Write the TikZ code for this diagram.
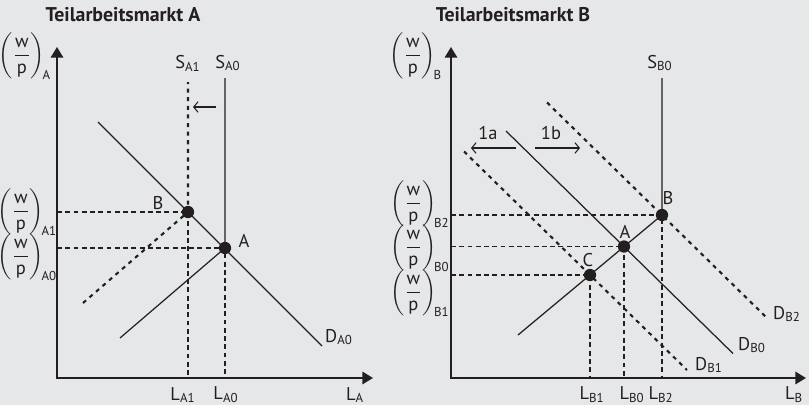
\documentclass[tikz,border=0pt]{standalone}
\usepackage{amsmath}
\usepackage{fontspec}
\setmainfont{PT Sans}
\usetikzlibrary{arrows.meta}

\definecolor{sfondo}{RGB}{230,231,232}
\definecolor{tratto}{RGB}{35,31,32}
\newcommand{\salario}[1]{$\biggl(\dfrac{\text{w}}{\text{p}}\biggr)_{\!\text{#1}}$}

\begin{document}
\begin{tikzpicture}[color=tratto, font=\fontsize{10.5}{12}\selectfont,
    asse/.style={line width=1.1pt, {Triangle[length=6pt,width=7pt]}-{Triangle[length=6pt,width=7pt]}},
    curva/.style={line width=0.7pt},
    spostata/.style={line width=1.2pt, dash pattern=on 2.3pt off 2.6pt},
    guida/.style={line width=0.6pt, dash pattern=on 2.8pt off 1.9pt},
    punto/.style={circle, fill=tratto, inner sep=0pt, minimum size=7pt},
    freccina/.style={line width=0.6pt, -{Straight Barb[length=2.5pt,width=6pt]}},
    titolo/.style={font=\bfseries\fontsize{11.3}{13}\selectfont}]
	% Sfondo grigio e cornice
	\fill[sfondo] (0,0) rectangle (16.18,8.10);
	\useasboundingbox (0,0) rectangle (16.18,8.10);

	% ---------------- Teilarbeitsmarkt A ----------------
	\node[titolo] (titoloA) at (2.46, 7.80) {Teilarbeitsmarkt A};
	\coordinate (OA) at (1.14, 0.54);
	\coordinate (yA) at (1.14, 7.16);
	\coordinate (xA) at (7.46, 0.54);
	\coordinate (A) at (4.50, 3.14);
	\coordinate (B) at (3.76, 3.86);

	% Linee guida tratteggiate verso gli assi
	\draw[guida] (OA |- B) -| (B |- OA);
	\draw[guida] (OA |- A) -| (A |- OA);

	% Assi
	\draw[asse] (yA) |- (xA);

	% Curve di offerta e domanda
	\coordinate (DAinizio) at (1.96, 5.66);
	\coordinate (DAfine) at (6.44, 1.18);
	\draw[curva] (DAinizio) -- (DAfine);
	\coordinate (SA0basso) at (2.40, 1.34);
	\coordinate (SA0alto) at (4.50, 6.54);
	\draw[curva] (SA0basso) -- (A) -- (SA0alto);
	\coordinate (SA1basso) at (1.66, 2.04);
	\coordinate (SA1alto) at (3.76, 6.46);
	\draw[spostata] (SA1basso) -- (B) -- (SA1alto);

	% Spostamento dell'offerta
	\coordinate (frA1) at (4.32, 5.96);
	\coordinate (frA2) at (3.86, 5.96);
	\draw[freccina] (frA1) -- (frA2);

	% Punti di equilibrio
	\node[punto] (puntoA) at (A) {};
	\node[punto] (puntoB) at (B) {};
	\node (etA) at (4.88, 3.28) {A};
	\node (etB) at (3.16, 4.04) {B};

	% Etichette delle curve e degli assi
	\node (lSA1) at (3.76, 6.84) {S$_\text{A1}$};
	\node (lSA0) at (4.56, 6.84) {S$_\text{A0}$};
	\node (lDA0) at (6.78, 1.36) {D$_\text{A0}$};
	\node (lLA1) at (3.66, 0.20) {L$_\text{A1}$};
	\node (lLA0) at (4.52, 0.20) {L$_\text{A0}$};
	\node (lLA) at (7.10, 0.20) {L$_\text{A}$};
	\node (lwA) at (0.50, 6.98) {\salario{A}};
	\node (lwA1) at (0.55, 3.86) {\salario{A1}};
	\node (lwA0) at (0.55, 2.96) {\salario{A0}};

	% ---------------- Teilarbeitsmarkt B ----------------
	\node[titolo] (titoloB) at (10.26, 7.80) {Teilarbeitsmarkt B};
	\coordinate (OB) at (9.02, 0.54);
	\coordinate (yB) at (9.02, 7.16);
	\coordinate (xB) at (16.12, 0.54);
	\coordinate (AB) at (12.48, 3.17);
	\coordinate (BB) at (13.24, 3.80);
	\coordinate (CB) at (11.80, 2.60);

	% Linee guida tratteggiate verso gli assi
	\draw[guida] (OB |- BB) -| (BB |- OB);
	\draw[guida] (OB |- AB) -| (AB |- OB);
	\draw[guida] (OB |- CB) -| (CB |- OB);

	% Assi
	\draw[asse] (yB) |- (xB);

	% Curve di domanda (spostate) e offerta
	\coordinate (DB0inizio) at (10.12, 5.48);
	\coordinate (DB0fine) at (14.66, 1.03);
	\draw[curva] (DB0inizio) -- (DB0fine);
	\coordinate (DB1inizio) at (9.28, 5.07);
	\coordinate (DB1fine) at (13.74, 0.70);
	\draw[spostata] (DB1inizio) -- (DB1fine);
	\coordinate (DB2inizio) at (10.94, 6.05);
	\coordinate (DB2fine) at (15.36, 1.72);
	\draw[spostata] (DB2inizio) -- (DB2fine);
	\coordinate (SBbasso) at (10.36, 1.40);
	\coordinate (SBalto) at (13.24, 6.54);
	\draw[curva] (SBbasso) -- (BB) -- (SBalto);

	% Spostamenti della domanda
	\coordinate (fr1a1) at (10.32, 5.14);
	\coordinate (fr1a2) at (9.42, 5.14);
	\coordinate (fr1b1) at (10.70, 5.14);
	\coordinate (fr1b2) at (11.60, 5.14);
	\draw[freccina] (fr1a1) -- (fr1a2);
	\draw[freccina] (fr1b1) -- (fr1b2);
	\node (et1a) at (9.76, 5.44) {1a};
	\node (et1b) at (11.02, 5.44) {1b};

	% Punti di equilibrio
	\node[punto] (puntoAB) at (AB) {};
	\node[punto] (puntoBB) at (BB) {};
	\node[punto] (puntoCB) at (CB) {};
	\node (etAB) at (12.50, 3.46) {A};
	\node (etBB) at (13.36, 4.14) {B};
	\node (etCB) at (11.76, 2.90) {C};

	% Etichette delle curve e degli assi
	\node (lSB0) at (13.20, 6.84) {S$_\text{B0}$};
	\node (lDB0) at (15.04, 1.20) {D$_\text{B0}$};
	\node (lDB1) at (14.18, 0.80) {D$_\text{B1}$};
	\node (lDB2) at (15.74, 1.82) {D$_\text{B2}$};
	\node (lLB1) at (11.84, 0.20) {L$_\text{B1}$};
	\node (lLB0) at (12.64, 0.20) {L$_\text{B0}$};
	\node (lLB2) at (13.22, 0.20) {L$_\text{B2}$};
	\node (lLB) at (15.88, 0.20) {L$_\text{B}$};
	\node (lwB) at (8.32, 6.98) {\salario{B}};
	\node (lwB2) at (8.40, 4.02) {\salario{B2}};
	\node (lwB0) at (8.40, 3.14) {\salario{B0}};
	\node (lwB1) at (8.40, 2.24) {\salario{B1}};
\end{tikzpicture}
\end{document}
